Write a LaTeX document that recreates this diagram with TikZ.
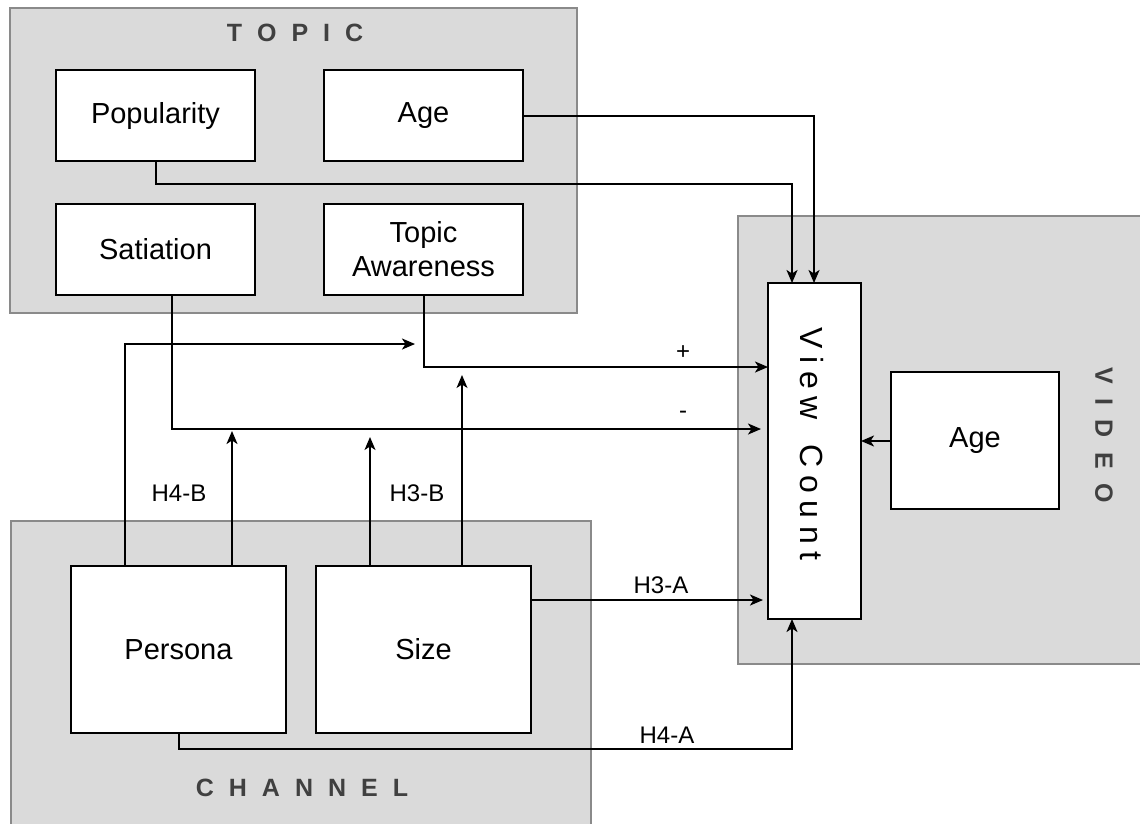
\documentclass[tikz,border=0pt]{standalone}
\usepackage{fontspec}
\setmainfont{Liberation Sans}
\usetikzlibrary{arrows.meta,calc}
\definecolor{grayfill}{HTML}{DADADA}
\definecolor{grayline}{HTML}{8A8A8A}
\definecolor{titlecol}{HTML}{404040}
\tikzset{
  container/.style={draw=grayline, fill=grayfill, line width=1.6pt, anchor=north west, inner sep=0pt, outer sep=0pt},
  box/.style={draw=black, fill=white, line width=1.9pt, anchor=north west, inner sep=0pt, outer sep=0pt, align=center,
    font=\fontsize{29}{34}\selectfont},
  title/.style={text=titlecol, font=\fontsize{25}{30}\selectfont\bfseries, inner sep=0pt},
  lbl/.style={font=\fontsize{24}{28}\selectfont, inner sep=0pt},
  arr/.style={-{Stealth[length=13pt,width=11pt,inset=3.5pt]}, line width=1.9pt},
  thinarr/.style={arr, line width=1.3pt},
}
\begin{document}
\begin{tikzpicture}[x=1pt,y=-1pt]
\useasboundingbox (0,0) rectangle (1140,823);
% containers
\node[container, minimum width=567pt, minimum height=305pt] (topic) at (10,8) {};
\node[container, minimum width=410pt, minimum height=448pt] (video) at (738,216) {};
\node[container, minimum width=580pt, minimum height=310pt] (channel) at (11,521) {};
% titles
\node[title] (ttopic) at (295,33) {T\kern15pt O\kern15pt P\kern15pt I\kern15pt C};
\node[title] (tchannel) at (302,788) {C\kern15pt H\kern15pt A\kern15pt N\kern15pt N\kern15pt E\kern15pt L};
\node[title, rotate=-90] (tvideo) at (1104,435) {V\kern14.5pt I\kern14.5pt D\kern14.5pt E\kern14.5pt O};
% boxes
\node[box, minimum width=199pt, minimum height=91pt] (pop) at (56,70) {Popularity};
\node[box, minimum width=199pt, minimum height=91pt] (tage) at (324,70) {Age};
\node[box, minimum width=199pt, minimum height=91pt] (sat) at (56,204) {Satiation};
\node[box, minimum width=199pt, minimum height=91pt] (taw) at (324,204) {Topic\\Awareness};
\node[box, minimum width=93pt, minimum height=336pt] (vc) at (768,283) {};
\node[font=\fontsize{32}{36}\selectfont, rotate=-90, inner sep=0pt] (vctext) at (812,444)
  {V\kern7.7pt i\kern7.7pt e\kern7.7pt w\kern24.3pt C\kern7.7pt o\kern7.7pt u\kern7.7pt n\kern7.7pt t};
\node[box, minimum width=168pt, minimum height=137pt] (vage) at (891,372) {Age};
\node[box, minimum width=215pt, minimum height=167pt] (pers) at (71,566) {Persona};
\node[box, minimum width=215pt, minimum height=167pt] (size) at (316,566) {Size};
% free ends of moderating arrows
\coordinate (t1) at (415,344);
\coordinate (t2) at (232,431);
\coordinate (t3) at (370,437);
\coordinate (t4) at (462,375);
\coordinate (tagee) at ([yshift=-0.5pt]tage.east);
\coordinate (vcn) at ([xshift=-0.5pt]vc.north);
\coordinate (vagew) at ([yshift=-0.5pt]vage.west);
\coordinate (pops) at ([xshift=0.5pt]pop.south);
\coordinate (sats) at ([xshift=16.5pt]sat.south);
\coordinate (taws) at ([xshift=0.5pt]taw.south);
\coordinate (perss) at ([xshift=0.5pt]pers.south);
% connectors
\draw[arr] (tagee) -| (vcn);
\draw[arr] (pops) -- ++(0,23) -| ([xshift=24pt]vc.north west);
\draw[arr] (sats) |- ([xshift=-7pt,yshift=22pt]vc.west);
\draw[arr] (taws) |- ([yshift=84pt]vc.west);
\draw[arr] ([xshift=54pt]pers.north west) |- (t1);
\draw[arr] ([xshift=161pt]pers.north west) -- (t2);
\draw[thinarr] ([xshift=54pt]size.north west) -- (t3);
\draw[thinarr] ([xshift=146pt]size.north west) -- (t4);
\draw[arr] ([yshift=-34pt]size.north east) -- ([xshift=-5pt,yshift=19pt]vc.south west);
\draw[arr] (perss) -- ++(0,16) -| ([xshift=24pt]vc.south west);
\draw[arr] (vagew) -- (vc.east |- vagew);
% labels
\node[lbl] (lplus) at (683,353) {+};
\node[lbl] (lminus) at (683,415) {-};
\node[lbl] (lh4b) at (179,493) {H4-B};
\node[lbl] (lh3b) at (417,493) {H3-B};
\node[lbl] (lh3a) at (661,585) {H3-A};
\node[lbl] (lh4a) at (667,735) {H4-A};
\end{tikzpicture}
\end{document}
